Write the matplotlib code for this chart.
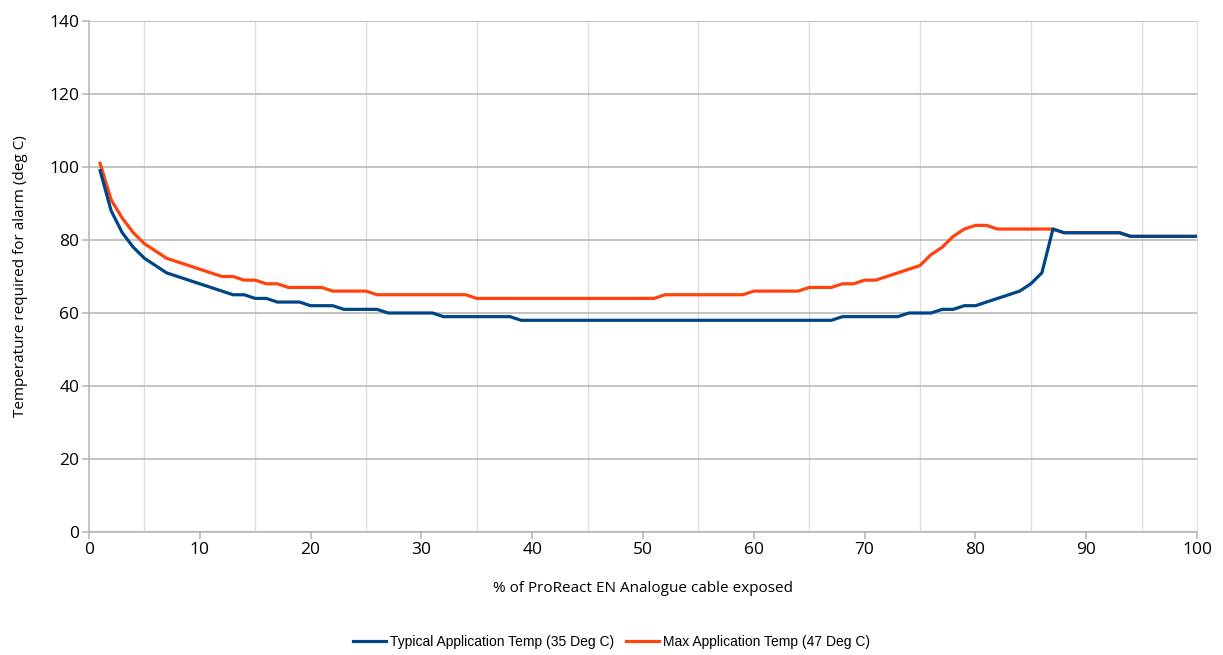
import matplotlib.pyplot as plt
from matplotlib.ticker import MultipleLocator

blue = '#004586'
orange = '#ff420e'
grid_major = '#b3b3b3'
grid_minor = '#dddddd'

pct = list(range(1, 101))

typical = [99, 88, 82, 78, 75, 73, 71, 70, 69, 68,
           67, 66, 65, 65, 64, 64, 63, 63, 63, 62,
           62, 62, 61, 61, 61, 61, 60, 60, 60, 60,
           60, 59, 59, 59, 59, 59, 59, 59, 58, 58,
           58, 58, 58, 58, 58, 58, 58, 58, 58, 58,
           58, 58, 58, 58, 58, 58, 58, 58, 58, 58,
           58, 58, 58, 58, 58, 58, 58, 59, 59, 59,
           59, 59, 59, 60, 60, 60, 61, 61, 62, 62,
           63, 64, 65, 66, 68, 71, 83, 82, 82, 82,
           82, 82, 82, 81, 81, 81, 81, 81, 81, 81]

maximum = [101, 91, 86, 82, 79, 77, 75, 74, 73, 72,
           71, 70, 70, 69, 69, 68, 68, 67, 67, 67,
           67, 66, 66, 66, 66, 65, 65, 65, 65, 65,
           65, 65, 65, 65, 64, 64, 64, 64, 64, 64,
           64, 64, 64, 64, 64, 64, 64, 64, 64, 64,
           64, 65, 65, 65, 65, 65, 65, 65, 65, 66,
           66, 66, 66, 66, 67, 67, 67, 68, 68, 69,
           69, 70, 71, 72, 73, 76, 78, 81, 83, 84,
           84, 83, 83, 83, 83, 83, 83, 82, 82, 82,
           82, 82, 82, 81, 81, 81, 81, 81, 81, 81]

labels = ['Typical Application Temp (35 Deg C)', 'Max Application Temp (47 Deg C)']

fig = plt.figure(figsize=(12.23, 6.55), dpi=100)
ax = fig.add_axes([89/1223, 1 - 532/655, (1197-89)/1223, (532-21)/655])

ax.plot(pct, typical, color=blue, lw=2.3, label=labels[0], zorder=4)
ax.plot(pct, maximum, color=orange, lw=2.3, label=labels[1], zorder=3)

ax.set_xlim(0, 100)
ax.set_ylim(0, 140)
ax.xaxis.set_major_locator(MultipleLocator(10))
ax.xaxis.set_minor_locator(MultipleLocator(5))
ax.yaxis.set_major_locator(MultipleLocator(20))
ax.grid(axis='y', which='major', color=grid_major, lw=1.1)
ax.grid(axis='x', which='minor', color=grid_minor, lw=1)
ax.set_axisbelow(True)

for s in ['left', 'bottom']:
    ax.spines[s].set_color(grid_major)
    ax.spines[s].set_linewidth(1.1)
ax.spines['right'].set_color(grid_minor)
ax.spines['top'].set_visible(False)

ax.tick_params(which='major', length=5, width=1.1, color=grid_major,
               labelsize=12.5, pad=2)
ax.tick_params(which='minor', length=0)
for t in ax.get_xticklabels() + ax.get_yticklabels():
    t.set_fontfamily('Open Sans')

ax.set_xlabel('% of ProReact EN Analogue cable exposed', fontsize=11,
              family='Open Sans', labelpad=17)
ax.set_ylabel('Temperature required for alarm (deg C)', fontsize=11,
              family='Open Sans', labelpad=15)

fig.legend(loc='center', bbox_to_anchor=(0.5, 1 - 642/655), ncol=2,
           frameon=False, prop={'family': 'Liberation Sans', 'size': 10},
           handlelength=2.4, columnspacing=0.8, handletextpad=0.3)

plt.savefig('out.png', dpi=100)
